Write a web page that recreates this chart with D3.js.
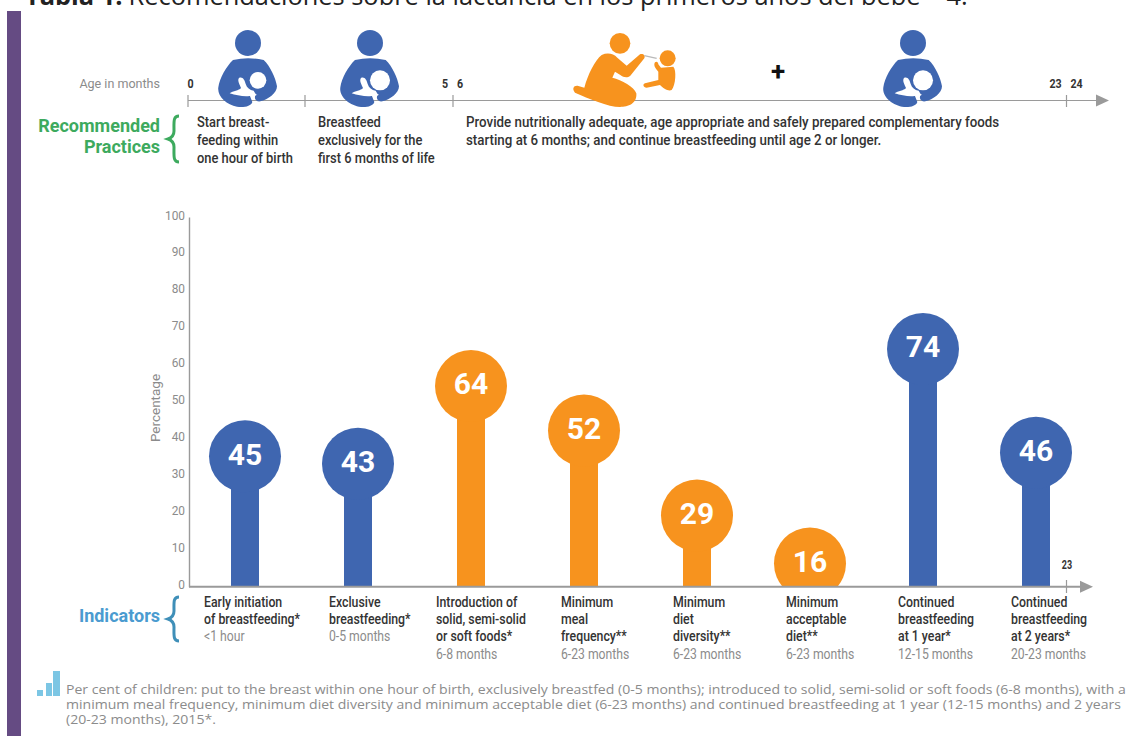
<!DOCTYPE html>
<html>
<head>
<meta charset="utf-8">
<script src="https://cdnjs.cloudflare.com/ajax/libs/d3/7.8.5/d3.min.js"></script>
<style>
html,body{margin:0;padding:0;background:#fff;overflow:hidden}
svg{display:block}
text{font-family:Roboto,sans-serif}
</style>
</head>
<body>
<svg id="chart" width="1148" height="736"></svg>
<script>
// Indicator categories and national percentages
const indicators = ["initiation","exclusive","introduction","frequency","diversity","acceptable","year1","year2"];
const percentages = [45,43,64,52,29,16,74,46];
const groups = ["breast","breast","food","food","food","food","breast","breast"];
const indicatorLines = [
  ["Early initiation","of breastfeeding*"],
  ["Exclusive","breastfeeding*"],
  ["Introduction of","solid, semi-solid","or soft foods*"],
  ["Minimum","meal","frequency**"],
  ["Minimum","diet","diversity**"],
  ["Minimum","acceptable","diet**"],
  ["Continued","breastfeeding","at 1 year*"],
  ["Continued","breastfeeding","at 2 years*"]
];
const ageRanges = ["<1 hour","0-5 months","6-8 months","6-23 months","6-23 months","6-23 months","12-15 months","20-23 months"];
const yTicks = d3.range(0,101,10);

// Timeline across the top of the figure
const timelineMonths = [0,1,5.5,23.5];
const practices = [
  ["Start breast-","feeding within","one hour of birth"],
  ["Breastfeed","exclusively for the","first 6 months of life"],
  ["Provide nutritionally adequate, age appropriate and safely prepared complementary foods","starting at 6 months; and continue breastfeeding until age 2 or longer."]
];
const footnote = [
  "Per cent of children: put to the breast within one hour of birth, exclusively breastfed (0-5 months); introduced to solid, semi-solid or soft foods (6-8 months), with a",
  "minimum meal frequency, minimum diet diversity and minimum acceptable diet (6-23 months) and continued breastfeeding at 1 year (12-15 months) and 2 years",
  "(20-23 months), 2015*."
];

const BLUE="#3F66B0", ORANGE="#F7931E", AXIS="#9a9a9a", INK="#333", GREY="#8b8b8b";
const color = d3.scaleOrdinal(["breast","food"],[BLUE,ORANGE]);
const svg = d3.select("#chart");

// Horizontally rescaled text, standing in for the figure's narrow and wide faces
function narrow(sel,px,py,k){
  return sel.attr("transform",(d,i)=>{
    const a=typeof px==="function"?px(d,i):px, b=typeof py==="function"?py(d,i):py;
    return `translate(${a},${b}) scale(${k},1)`;
  });
}

// Page furniture: side band and the clipped heading
svg.append("rect").attr("x",7).attr("y",11).attr("width",14).attr("height",725).attr("fill","#654B83");
const heading = svg.append("text").attr("x",25).attr("y",4.5)
  .style("font-family","'Open Sans',sans-serif").style("font-size","25.4px").attr("fill","#222");
heading.append("tspan").attr("font-weight",700).text("Tabla 1.");
heading.append("tspan").attr("dx",6).text("Recomendaciones sobre la lactancia en los primeros años del bebe");
heading.append("tspan").attr("dx",26).text("4");
heading.append("tspan").text(".");

// Scales
const x = d3.scalePoint().domain(indicators).range([245,1036]);
const y = d3.scaleLinear().domain([0,100]).range([586.7,217]);
const t = d3.scaleLinear().domain(timelineMonths).range([188,305,453,1066.5]);
const R = 36, BAR = 28;

function arrow(g,x0,x1,yy,w){
  g.append("line").attr("x1",x0).attr("x2",x1-8).attr("y1",yy).attr("y2",yy).attr("stroke",AXIS).attr("stroke-width",w);
  g.append("path").attr("d",`M${x1},${yy}L${x1-13},${yy-6}L${x1-13},${yy+6}Z`).attr("fill",AXIS);
}
function brace(g,cx,y0,y1,col){
  const m=(y0+y1)/2;
  g.append("path").attr("fill","none").attr("stroke",col).attr("stroke-width",3)
   .attr("d",`M${cx+6},${y0}C${cx},${y0} ${cx+1},${y0+6} ${cx+1},${m-8}C${cx+1},${m-3} ${cx-2},${m-1} ${cx-5},${m}C${cx-2},${m+1} ${cx+1},${m+3} ${cx+1},${m+8}C${cx+1},${y1-6} ${cx},${y1} ${cx+6},${y1}`);
}

// Timeline
const timeline = svg.append("g");
arrow(timeline,188,1109,100.5,1.2);
timeline.selectAll("line.tick").data(timelineMonths).join("line").attr("class","tick")
  .attr("x1",d=>t(d)).attr("x2",d=>t(d)).attr("y1",95).attr("y2",107).attr("stroke",AXIS).attr("stroke-width",1.2);
narrow(timeline.append("text"),160,88,0.93).attr("text-anchor","end").attr("fill",GREY)
  .style("font-size","13.5px").text("Age in months");
const tickLabels=[["0",t(0)+2.5],["5",t(5.5)-8],["6",t(5.5)+7],["23",t(23.5)-11],["24",t(23.5)+10]];
narrow(timeline.selectAll("text.age").data(tickLabels).join("text").attr("class","age"),d=>d[1],88,0.82)
  .attr("text-anchor","middle").attr("fill",INK)
  .attr("font-weight",700).style("font-size","13px").text(d=>d[0]);
timeline.append("text").attr("x",778).attr("y",80).attr("text-anchor","middle").attr("fill","#111")
  .attr("font-weight",700).style("font-size","26px").text("+");

// Pictograms, drawn in a 3x local grid and placed by head centre
function mother(hx,hy,babyR){
  const g=svg.append("g").attr("transform",`translate(${hx-145/3},${hy-55/3}) scale(${1/3})`);
  g.append("circle").attr("cx",145).attr("cy",55).attr("r",39).attr("fill",BLUE);
  g.append("path").attr("fill",BLUE)
   .attr("d","M100,106Q145,96 192,106C212,125 228,160 232,185C232,205 205,225 182,230C166,232 160,215 172,208L150,212L158,232C155,245 130,250 112,246C80,240 52,215 56,188C60,160 80,125 100,106Z");
  g.append("circle").attr("cx",175).attr("cy",167).attr("r",babyR).attr("fill","#fff");
  g.append("path").attr("fill","#fff")
   .attr("d","M118,160C128,155 135,165 138,178C142,190 150,196 162,198L170,212L150,214C130,216 110,212 90,206C100,198 118,198 124,190C120,180 112,168 118,160Z");
}
mother(248,43,25);
mother(370,43,30);
mother(913,43,30);

const kid=svg.append("g").attr("transform","translate(565,25) scale(0.3333)").attr("fill",ORANGE);
kid.append("circle").attr("cx",165).attr("cy",55).attr("r",31);
kid.append("path").attr("d","M110,90C128,82 145,86 157,98L185,122L225,88C235,85 242,92 238,100L196,152C186,160 176,157 166,150L150,140L142,158C170,165 208,185 214,205C217,236 190,246 165,246C130,246 70,220 30,203C20,192 26,180 40,183L58,188C68,150 90,105 110,90Z");
kid.append("circle").attr("cx",308).attr("cy",100).attr("r",24);
kid.append("path").attr("d","M270,112C275,108 280,112 280,118L288,128L325,125C335,135 332,180 320,195C310,200 295,190 285,180L245,188C235,188 232,178 240,175L280,165L280,140C270,130 265,120 270,112Z");
kid.append("line").attr("x1",238).attr("y1",92).attr("x2",275).attr("y2",100).attr("stroke","#b9b9b9").attr("stroke-width",4);

// Recommended practices row
const green="#3DAA5E";
["Recommended","Practices"].forEach((s,i)=>{
  svg.append("text").attr("x",160).attr("y",132+i*21).attr("text-anchor","end").attr("fill",green)
    .attr("font-weight",700).style("font-size","18px").text(s);
});
brace(svg,173,116,162,green);
[197,318,466].forEach((px,i)=>{
  narrow(svg.append("g").selectAll("text").data(practices[i]).join("text"),px,(d,j)=>127+j*18.2,i===2?0.92:0.89)
    .attr("fill",INK).attr("font-weight",500).style("font-size","14.5px").text(d=>d);
});

// Value axis
const chart=svg.append("g");
const axisL=d3.axisLeft(y).tickValues(yTicks).tickSize(0).tickPadding(4);
const ag=chart.append("g").attr("transform","translate(189,0)").call(axisL);
ag.select(".domain").attr("stroke",AXIS).attr("stroke-width",1.4);
ag.selectAll("text").attr("fill",GREY).attr("x",0).attr("dy",0).style("font-size","13.5px").style("font-family","Roboto");
narrow(ag.selectAll("text"),-4,2,0.88);
chart.append("text").attr("transform","translate(160,408) rotate(-90)").attr("text-anchor","middle")
  .attr("fill",GREY).style("font-size","13.5px").text("Percentage");

// Lollipops: the circle's top edge sits at the value; anything below the baseline is clipped
svg.append("clipPath").attr("id","plot").append("rect").attr("x",189).attr("y",150).attr("width",950).attr("height",436.7);
const marks=chart.append("g").attr("clip-path","url(#plot)").selectAll("g").data(percentages).join("g");
marks.append("rect").attr("x",(d,i)=>x(indicators[i])-BAR/2).attr("width",BAR)
  .attr("y",d=>y(d)+R).attr("height",d=>Math.max(0,y(0)-y(d)-R)).attr("fill",(d,i)=>color(groups[i]));
marks.append("circle").attr("cx",(d,i)=>x(indicators[i])).attr("cy",d=>y(d)+R).attr("r",R).attr("fill",(d,i)=>color(groups[i]));
marks.append("text").attr("x",(d,i)=>x(indicators[i])).attr("y",d=>y(d)+R-2.5).attr("dy","0.36em")
  .attr("text-anchor","middle").attr("fill","#fff").attr("font-weight",700)
  .style("font-size","30px").text(d=>d);

// Baseline with its month marker
arrow(chart,189,1093,586.7,2);
chart.append("line").attr("x1",1066.5).attr("x2",1066.5).attr("y1",580).attr("y2",593).attr("stroke",AXIS).attr("stroke-width",1.2);
narrow(chart.append("text"),1067,569,0.75).attr("text-anchor","middle").attr("fill",INK)
  .attr("font-weight",700).style("font-size","12px").text("23");

// Indicator labels
svg.append("text").attr("x",160).attr("y",622).attr("text-anchor","end").attr("fill","#4A9BD0")
  .attr("font-weight",700).style("font-size","18px").text("Indicators");
brace(svg,173,597,641,"#3F8FB8");
const labelX=[204,329,436,561,673,786,898,1011];
indicatorLines.forEach((lines,i)=>{
  const g=svg.append("g");
  narrow(g.selectAll("text").data(lines).join("text"),labelX[i],(d,j)=>607+j*16.8,0.88)
    .attr("fill",INK).attr("font-weight",500).style("font-size","14px").text(d=>d);
  narrow(g.append("text"),labelX[i],lines.length===2?641:659,0.87).attr("fill",GREY)
    .style("font-size","14px").text(ageRanges[i]);
});

// Footnote with its small bar glyph
const glyph=[[37,690,6],[46,683,6],[53,671,7]];
svg.append("g").selectAll("rect").data(glyph).join("rect").attr("x",d=>d[0]).attr("y",d=>d[1]).attr("width",d=>d[2])
  .attr("height",d=>696-d[1]).attr("fill","#7CC6E4");
narrow(svg.append("g").selectAll("text").data(footnote).join("text"),66,(d,i)=>694+i*15,1.09)
  .attr("fill",GREY).style("font-family","'Open Sans'").style("font-size","12.9px").text(d=>d);
</script>
</body>
</html>
